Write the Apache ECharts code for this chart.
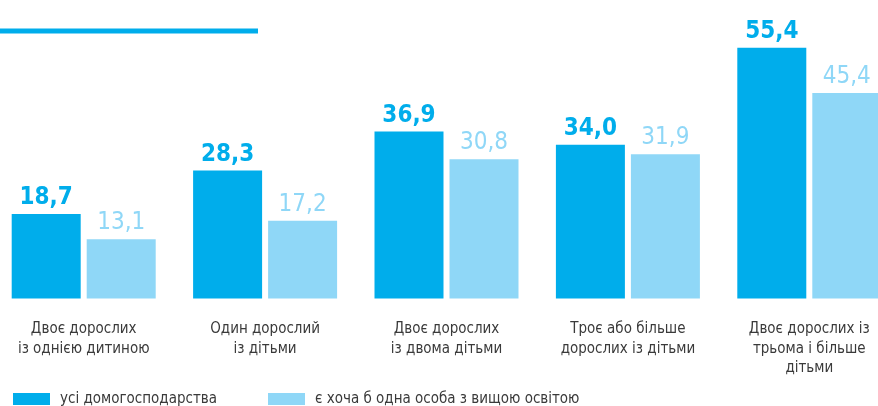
<!DOCTYPE html>
<html>
<head>
<meta charset="utf-8">
<script src="https://cdn.jsdelivr.net/npm/echarts@6/dist/echarts.min.js"></script>
<style>
  html, body { margin: 0; padding: 0; background: #fff; }
  #chart { width: 878px; height: 406px; }
</style>
</head>
<body>
<div id="chart"></div>
<script>
const categories = [
  'Двоє дорослих\nіз однією дитиною',
  'Один дорослий\nіз дітьми',
  'Двоє дорослих\nіз двома дітьми',
  'Троє або більше\nдорослих із дітьми',
  'Двоє дорослих із\nтрьома і більше\nдітьми'
]
const allHouseholds = [18.7, 28.3, 36.9, 34.0, 55.4]
const withHigherEdu = [13.1, 17.2, 30.8, 31.9, 45.4]
const seriesNames = ['усі домогосподарства', 'є хоча б одна особа з вищою освітою']

const darkBlue = '#00adeb'
const lightBlue = '#8fd7f7'
const narrow = "'Liberation Sans Narrow', 'DejaVu Sans Condensed', 'Roboto', sans-serif"

const fmt = function(p) {
  return p.value.toFixed(1).replace('.', ',')
}

const legendText = { fontFamily: narrow, fontSize: 15, color: '#3a3a3a', lineHeight: 18, padding: [0, 0, 0, 5] }

const chart = echarts.init(document.getElementById('chart'))
chart.setOption({
  animation: false,
  textStyle: { fontFamily: narrow },
  graphic: [{
    type: 'rect',
    shape: { x: 0, y: 28.5, width: 258, height: 5 },
    style: { fill: darkBlue }
  }],
  grid: {
    left: -7,
    width: 907,
    top: 27,
    bottom: 107.5,
    containLabel: false,
    outerBoundsMode: 'none'
  },
  legend: [{
    data: [seriesNames[0]],
    left: 13,
    top: 390,
    padding: 0,
    icon: 'rect',
    itemWidth: 37,
    itemHeight: 12,
    textStyle: legendText
  }, {
    data: [seriesNames[1]],
    left: 268,
    top: 390,
    padding: 0,
    icon: 'rect',
    itemWidth: 37,
    itemHeight: 12,
    textStyle: legendText
  }],
  xAxis: {
    type: 'category',
    data: categories,
    axisLine: { show: false },
    axisTick: { show: false },
    axisLabel: {
      interval: 0,
      margin: 21,
      fontFamily: narrow,
      fontSize: 15,
      lineHeight: 19.5,
      color: '#3a3a3a'
    }
  },
  yAxis: {
    type: 'value',
    min: 0,
    max: 60,
    show: false,
    splitLine: { show: false }
  },
  series: [{
    name: seriesNames[0],
    type: 'bar',
    data: allHouseholds,
    barWidth: 69,
    barGap: '8.7%',
    itemStyle: { color: darkBlue },
    label: {
      show: true,
      position: 'top',
      distance: 4,
      formatter: fmt,
      fontFamily: narrow,
      fontSize: 24,
      lineHeight: 24,
      fontWeight: 'bold',
      color: darkBlue
    }
  }, {
    name: seriesNames[1],
    type: 'bar',
    data: withHigherEdu,
    barWidth: 69,
    barGap: '8.7%',
    itemStyle: { color: lightBlue },
    label: {
      show: true,
      position: 'top',
      distance: 4,
      formatter: fmt,
      fontFamily: narrow,
      fontSize: 24,
      lineHeight: 24,
      color: lightBlue
    }
  }]
})
</script>
</body>
</html>
